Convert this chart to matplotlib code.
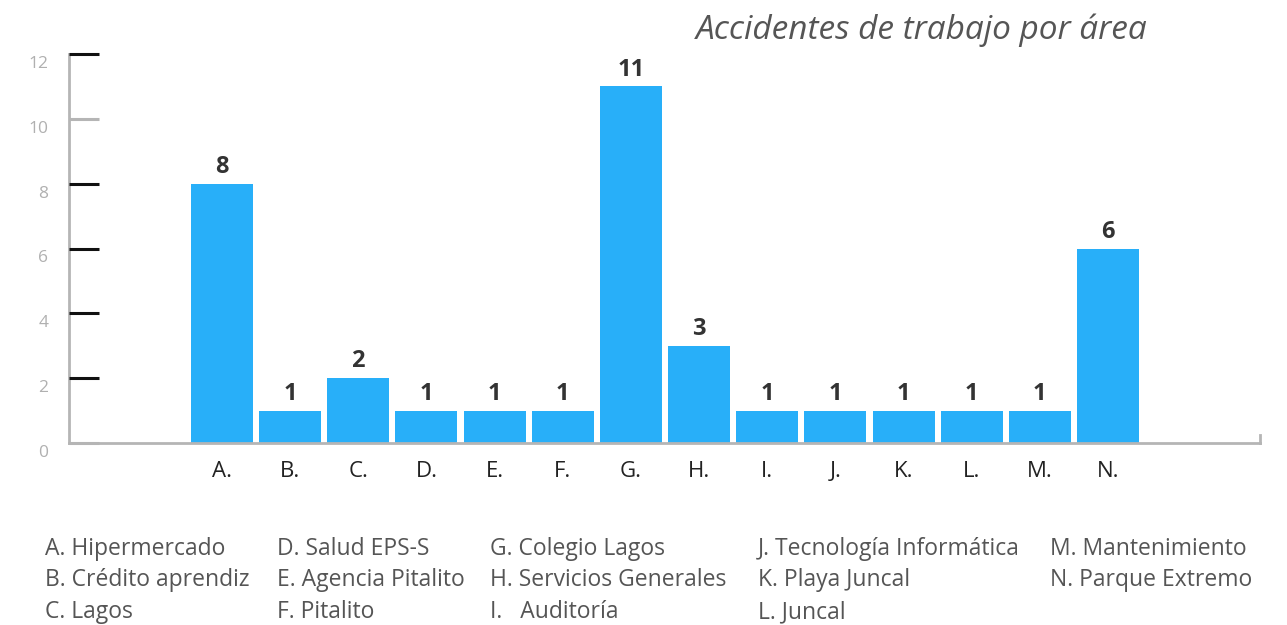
import matplotlib.pyplot as plt
from matplotlib.transforms import ScaledTranslation, blended_transform_factory

plt.rcParams['font.family'] = ['Open Sans', 'DejaVu Sans']

areas = ["A.", "B.", "C.", "D.", "E.", "F.", "G.", "H.", "I.", "J.", "K.", "L.", "M.", "N."]
accidents = [8, 1, 2, 1, 1, 1, 11, 3, 1, 1, 1, 1, 1, 6]
y_ticks = [0, 2, 4, 6, 8, 10, 12]

legend_cols = [
    ["A. Hipermercado", "B. Crédito aprendiz", "C. Lagos"],
    ["D. Salud EPS-S", "E. Agencia Pitalito", "F. Pitalito"],
    ["G. Colegio Lagos", "H. Servicios Generales", "I.   Auditoría"],
    ["J. Tecnología Informática", "K. Playa Juncal", "L. Juncal"],
    ["M. Mantenimiento", "N. Parque Extremo"],
]

fig = plt.figure(figsize=(12.87, 6.25), dpi=100)
ax = fig.add_axes([0.0536, 0.2912, 0.9254, 0.6224])

x = list(range(len(areas)))
ax.bar(x, accidents, width=0.91, color="#28aff9", zorder=2)
for xi, v in zip(x, accidents):
    ax.annotate(str(v), (xi, v), xytext=(0, 3.5), textcoords="offset points",
                ha="center", va="bottom", fontsize=17, fontweight="bold", color="#333333")

ax.set_xlim(-2.245, 15.23)
ax.set_ylim(0, 12)

for s in ["top", "right"]:
    ax.spines[s].set_visible(False)
for s in ["left", "bottom"]:
    ax.spines[s].set_color("#b5b5b5")
    ax.spines[s].set_linewidth(2)

ax.set_xticks(x)
ax.set_xticklabels(areas, fontsize=16, color="#222222")
ax.tick_params(axis="x", length=0, pad=13)

ax.set_yticks(y_ticks)
ax.set_yticklabels([str(t) for t in y_ticks], fontsize=12.5, color="#b0b0b0")
ax.tick_params(axis="y", length=0, pad=15)
for tick in ax.yaxis.get_major_ticks():
    tick.label1.set_transform(tick.label1.get_transform() +
                              ScaledTranslation(0, -8 / 100, fig.dpi_scale_trans))

# tick marks drawn inward from the spine
trans = blended_transform_factory(ax.transAxes, ax.transData)
tick_colors = ["#b5b5b5" if t in (0, 10) else "#111111" for t in y_ticks]
ax.hlines(y_ticks, 0, 30 / 1191, colors=tick_colors, lw=2.2, transform=trans,
          clip_on=False, zorder=3)

# small upturn at right end of baseline
ax.plot([15.23, 15.23], [0, 0.25], color="#b5b5b5", lw=2, clip_on=False)

fig.text(0.8915, 0.952, "Accidentes de trabajo por área", ha="right", va="center",
         fontsize=24, fontstyle="italic", color="#555555")

col_x = [45, 277, 490, 758, 1050]
row_y = [549, 580, 612]
for cx, col in zip(col_x, legend_cols):
    for ry, txt in zip(row_y, col):
        fig.text(cx / 1287, 1 - ry / 625, txt, ha="left", va="center",
                 fontsize=16.5, color="#555555")

fig.savefig("out.png", dpi=100)
